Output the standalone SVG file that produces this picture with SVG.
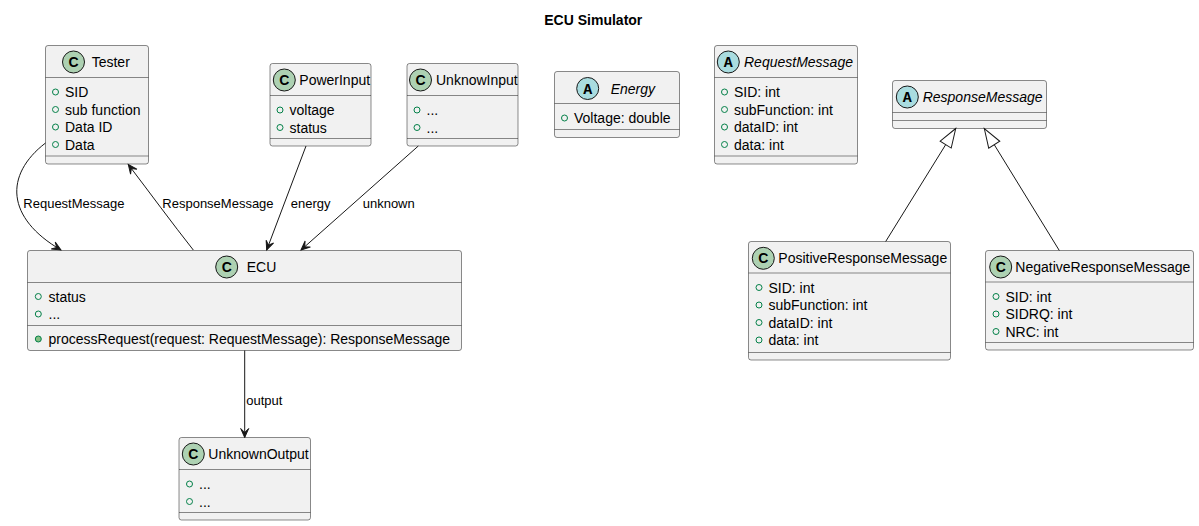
<svg xmlns="http://www.w3.org/2000/svg" width="1199" height="526" viewBox="0 0 1199 526">
<style>
.box{fill:#F1F1F1;stroke:#181818;stroke-width:0.5}
.dv{stroke:#181818;stroke-width:0.5}
.cc{fill:#ADD1B2;stroke:#181818;stroke-width:1}
.ca{fill:#A9DCDF;stroke:#181818;stroke-width:1}
.cl{font-family:"Liberation Sans",Arial,sans-serif;font-weight:bold;font-size:14px;fill:#000;text-anchor:middle}
.al{font-family:"Liberation Mono","Courier New",monospace;font-weight:bold;font-size:15px;fill:#000;text-anchor:middle}
.t{font-family:"Liberation Sans",Arial,sans-serif;font-size:14px;fill:#000}
.it{font-style:italic}
.v{fill:none;stroke:#038048;stroke-width:1}
.vm{fill:#84BE84;stroke:#038048;stroke-width:1}
.e{fill:none;stroke:#181818;stroke-width:1}
.lb{font-family:"Liberation Sans",Arial,sans-serif;font-size:13px;fill:#000}
.title{font-family:"Liberation Sans",Arial,sans-serif;font-size:14px;font-weight:bold;fill:#000;text-anchor:middle}
</style>
<defs>
<marker id="arr" markerUnits="userSpaceOnUse" orient="auto" markerWidth="12" markerHeight="10" refX="0" refY="0" viewBox="-11 -5 12 10" overflow="visible">
<path d="M0,0 L-9,-4 L-5,0 L-9,4 Z" fill="#181818" stroke="#181818" stroke-width="1"/>
</marker>
<marker id="inh" markerUnits="userSpaceOnUse" orient="auto" markerWidth="22" markerHeight="16" refX="0" refY="0" viewBox="-20 -8 22 16" overflow="visible">
<path d="M0,0 L-19,-6.5 L-19,6.5 Z" fill="#FFFFFF" stroke="#181818" stroke-width="1"/>
</marker>
</defs>
<rect width="1199" height="526" fill="#FFFFFF"/>
<text class="title" x="593.3" y="25">ECU Simulator</text>

<g id="Tester">
<rect class="box" x="45.5" y="45.5" width="103" height="118.5" rx="2.5"/>
<line class="dv" x1="45.5" y1="77.5" x2="148.5" y2="77.5"/>
<line class="dv" x1="45.5" y1="156" x2="148.5" y2="156"/>
<circle class="cc" cx="73.5" cy="62" r="11"/>
<text class="cl" x="73.5" y="67">C</text>
<text class="t" x="91.7" y="67">Tester</text>
<circle class="v" cx="55.5" cy="92" r="3"/><text class="t" x="65" y="97">SID</text>
<circle class="v" cx="55.5" cy="109.5" r="3"/><text class="t" x="65" y="114.5">sub function</text>
<circle class="v" cx="55.5" cy="127" r="3"/><text class="t" x="65" y="132">Data ID</text>
<circle class="v" cx="55.5" cy="144.5" r="3"/><text class="t" x="65" y="149.5">Data</text>
</g>

<g id="PowerInput">
<rect class="box" x="270" y="63.5" width="101" height="82.5" rx="2.5"/>
<line class="dv" x1="270" y1="95.5" x2="371" y2="95.5"/>
<line class="dv" x1="270" y1="138.5" x2="371" y2="138.5"/>
<circle class="cc" cx="284.3" cy="80" r="11"/>
<text class="cl" x="284.3" y="85">C</text>
<text class="t" x="299.3" y="85">PowerInput</text>
<circle class="v" cx="280" cy="110" r="3"/><text class="t" x="289.5" y="115">voltage</text>
<circle class="v" cx="280" cy="127.5" r="3"/><text class="t" x="289.5" y="132.5">status</text>
</g>

<g id="UnknowInput">
<rect class="box" x="407" y="63.5" width="111" height="82.5" rx="2.5"/>
<line class="dv" x1="407" y1="95.5" x2="518" y2="95.5"/>
<line class="dv" x1="407" y1="138.5" x2="518" y2="138.5"/>
<circle class="cc" cx="420.5" cy="80" r="11"/>
<text class="cl" x="420.5" y="85">C</text>
<text class="t" x="436" y="85">UnknowInput</text>
<circle class="v" cx="417" cy="110" r="3"/><text class="t" x="426.5" y="115">...</text>
<circle class="v" cx="417" cy="127.5" r="3"/><text class="t" x="426.5" y="132.5">...</text>
</g>

<g id="Energy">
<rect class="box" x="554.5" y="71.5" width="125" height="66" rx="2.5"/>
<line class="dv" x1="554.5" y1="103.5" x2="679.5" y2="103.5"/>
<line class="dv" x1="554.5" y1="129.5" x2="679.5" y2="129.5"/>
<circle class="ca" cx="587.7" cy="88.5" r="11"/>
<text class="al" x="587.7" y="93.5">A</text>
<text class="t it" x="610.7" y="93.5">Energy</text>
<circle class="v" cx="564.5" cy="118" r="3"/><text class="t" x="574" y="123">Voltage: double</text>
</g>

<g id="RequestMessage">
<rect class="box" x="714.5" y="45.5" width="143" height="118.5" rx="2.5"/>
<line class="dv" x1="714.5" y1="77.5" x2="857.5" y2="77.5"/>
<line class="dv" x1="714.5" y1="156" x2="857.5" y2="156"/>
<circle class="ca" cx="728.3" cy="62" r="11"/>
<text class="al" x="728.3" y="67">A</text>
<text class="t it" x="744" y="67">RequestMessage</text>
<circle class="v" cx="724.5" cy="92" r="3"/><text class="t" x="734" y="97">SID: int</text>
<circle class="v" cx="724.5" cy="109.5" r="3"/><text class="t" x="734" y="114.5">subFunction: int</text>
<circle class="v" cx="724.5" cy="127" r="3"/><text class="t" x="734" y="132">dataID: int</text>
<circle class="v" cx="724.5" cy="144.5" r="3"/><text class="t" x="734" y="149.5">data: int</text>
</g>

<g id="ResponseMessage">
<rect class="box" x="892.5" y="80.5" width="154" height="48" rx="2.5"/>
<line class="dv" x1="892.5" y1="112.5" x2="1046.5" y2="112.5"/>
<line class="dv" x1="892.5" y1="120.5" x2="1046.5" y2="120.5"/>
<circle class="ca" cx="907.3" cy="97" r="11"/>
<text class="al" x="907.3" y="102">A</text>
<text class="t it" x="922.7" y="102">ResponseMessage</text>
</g>

<g id="ECU">
<rect class="box" x="27.5" y="250.5" width="434" height="100" rx="2.5"/>
<line class="dv" x1="27.5" y1="282.5" x2="461.5" y2="282.5"/>
<line class="dv" x1="27.5" y1="325.5" x2="461.5" y2="325.5"/>
<circle class="cc" cx="226.7" cy="267" r="11"/>
<text class="cl" x="226.7" y="272">C</text>
<text class="t" x="246.7" y="272">ECU</text>
<circle class="v" cx="38.3" cy="296.5" r="3"/><text class="t" x="48.5" y="301.5">status</text>
<circle class="v" cx="38.3" cy="314" r="3"/><text class="t" x="48.5" y="319">...</text>
<circle class="vm" cx="38.3" cy="339" r="3"/><text class="t" x="48.5" y="344">processRequest(request: RequestMessage): ResponseMessage</text>
</g>

<g id="UnknownOutput">
<rect class="box" x="179" y="437.5" width="131.5" height="82.5" rx="2.5"/>
<line class="dv" x1="179" y1="469.5" x2="310.5" y2="469.5"/>
<line class="dv" x1="179" y1="512.5" x2="310.5" y2="512.5"/>
<circle class="cc" cx="193.3" cy="454" r="11"/>
<text class="cl" x="193.3" y="459">C</text>
<text class="t" x="208.3" y="459">UnknownOutput</text>
<circle class="v" cx="189.5" cy="484" r="3"/><text class="t" x="199" y="489">...</text>
<circle class="v" cx="189.5" cy="501.5" r="3"/><text class="t" x="199" y="506.5">...</text>
</g>

<g id="PositiveResponseMessage">
<rect class="box" x="748.5" y="241.5" width="202" height="118.5" rx="2.5"/>
<line class="dv" x1="748.5" y1="273" x2="950.5" y2="273"/>
<line class="dv" x1="748.5" y1="352.5" x2="950.5" y2="352.5"/>
<circle class="cc" cx="763.3" cy="258.3" r="11"/>
<text class="cl" x="763.3" y="263.3">C</text>
<text class="t" x="778.3" y="263.3">PositiveResponseMessage</text>
<circle class="v" cx="759" cy="287.5" r="3"/><text class="t" x="768.5" y="292.5">SID: int</text>
<circle class="v" cx="759" cy="305" r="3"/><text class="t" x="768.5" y="310">subFunction: int</text>
<circle class="v" cx="759" cy="322.5" r="3"/><text class="t" x="768.5" y="327.5">dataID: int</text>
<circle class="v" cx="759" cy="340" r="3"/><text class="t" x="768.5" y="345">data: int</text>
</g>

<g id="NegativeResponseMessage">
<rect class="box" x="985.5" y="250.5" width="208" height="99.5" rx="2.5"/>
<line class="dv" x1="985.5" y1="282" x2="1193.5" y2="282"/>
<line class="dv" x1="985.5" y1="342.5" x2="1193.5" y2="342.5"/>
<circle class="cc" cx="1000.7" cy="267" r="11"/>
<text class="cl" x="1000.7" y="272">C</text>
<text class="t" x="1015.3" y="272">NegativeResponseMessage</text>
<circle class="v" cx="996" cy="296.5" r="3"/><text class="t" x="1005.5" y="301.5">SID: int</text>
<circle class="v" cx="996" cy="314" r="3"/><text class="t" x="1005.5" y="319">SIDRQ: int</text>
<circle class="v" cx="996" cy="331.5" r="3"/><text class="t" x="1005.5" y="336.5">NRC: int</text>
</g>

<g id="connectors">
<path class="e" d="M45.5,143 C4,175 6,218 61,250" marker-end="url(#arr)"/>
<text class="lb" x="23.3" y="208">RequestMessage</text>
<path class="e" d="M193.3,250 C172,223 150,193 128.3,164.5" marker-end="url(#arr)"/>
<text class="lb" x="162.3" y="208">ResponseMessage</text>
<path class="e" d="M306,146 L266.7,250" marker-end="url(#arr)"/>
<text class="lb" x="290.7" y="208">energy</text>
<path class="e" d="M418.3,146 L301,250" marker-end="url(#arr)"/>
<text class="lb" x="362.7" y="208">unknown</text>
<path class="e" d="M244.7,350.5 L244.7,437.5" marker-end="url(#arr)"/>
<text class="lb" x="246.3" y="404.5">output</text>
<path class="e" d="M885.7,241.5 L955.7,128.5" marker-end="url(#inh)"/>
<path class="e" d="M1059.3,250.5 L984.3,128.5" marker-end="url(#inh)"/>
</g>
</svg>
